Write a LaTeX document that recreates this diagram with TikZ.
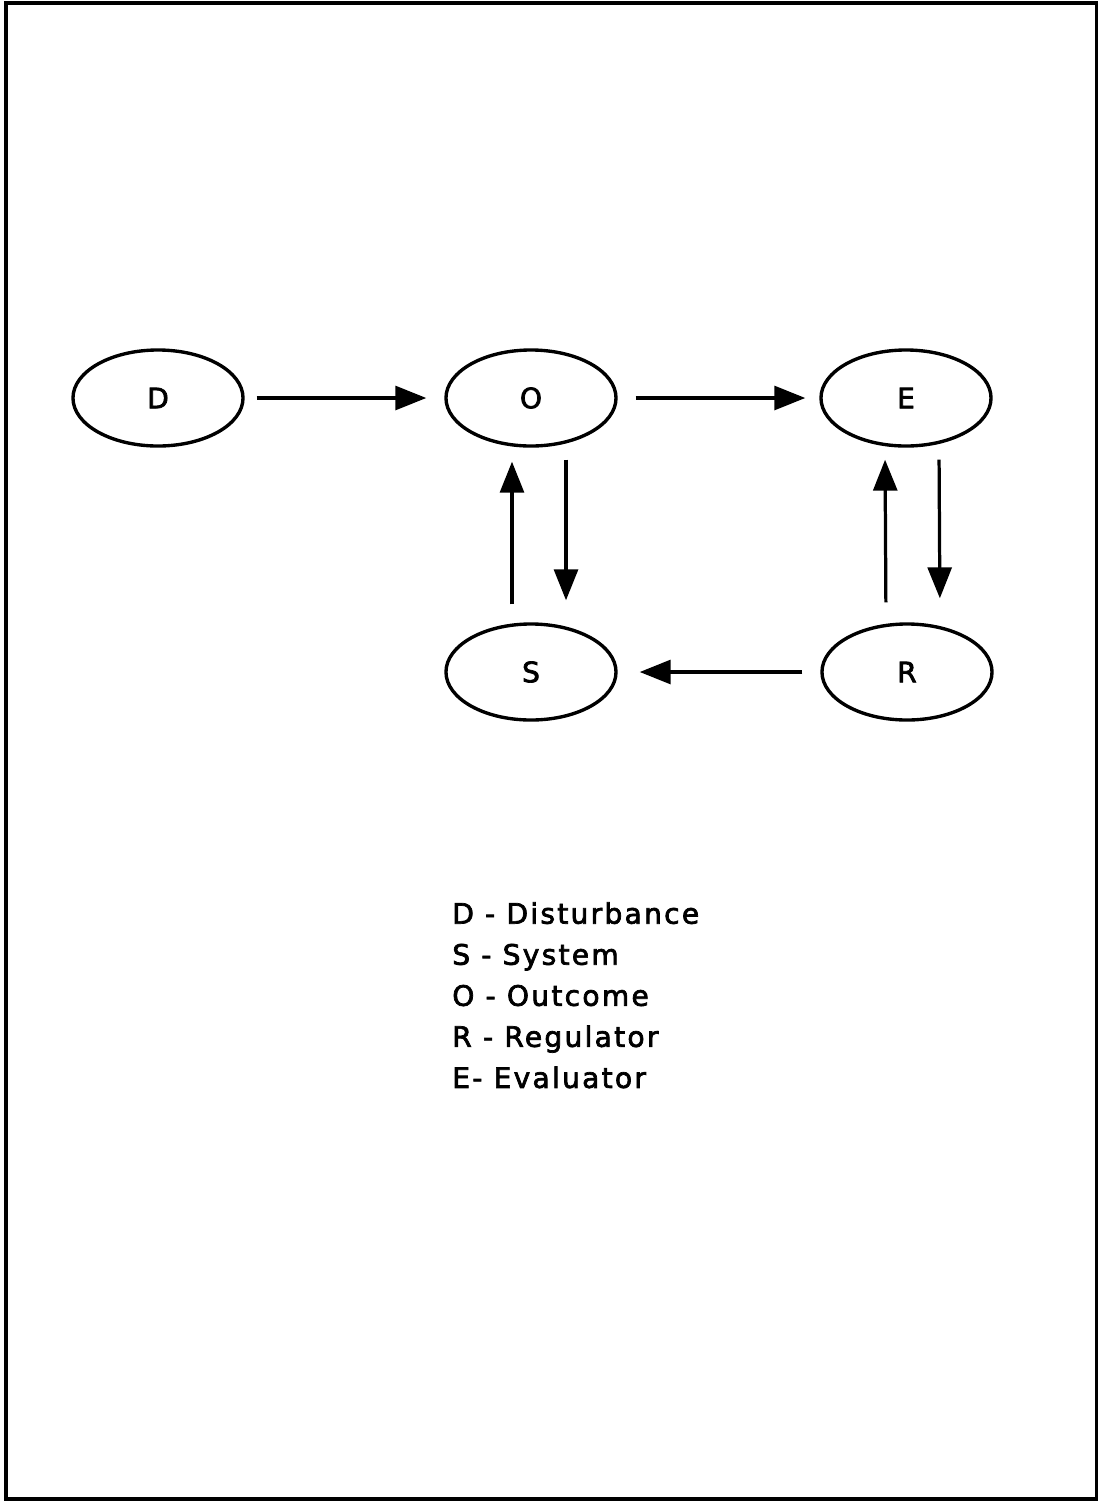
\documentclass[tikz,border=0pt]{standalone}
\usepackage{fontspec}
\setmainfont[FakeBold=2.5]{DejaVu Sans}
\usetikzlibrary{arrows.meta,shapes.geometric}

\begin{document}
\begin{tikzpicture}[x=0.025cm,y=-0.025cm,
	state/.style={draw,ellipse,line width=2.4pt,minimum width=4.25cm,minimum height=2.4cm,inner sep=0pt,font=\fontsize{20}{24}\selectfont},
	flow/.style={line width=2.3pt,-{Triangle[length=22pt,width=17pt]}}]
			\useasboundingbox (0,0) rectangle (1098,1502);
			\draw [line width=2.3pt] (6,3) rectangle (1097,1499);
			
			\node [state] (D) at (158,398) {D};
			\node [state] (O) at (531,398) {O};
			\node [state] (E) at (906,398) {E};
			\node [state] (S) at (531,672) {S};
			\node [state] (R) at (907,672) {R};
			
			\draw [flow,shorten <=0.3cm,shorten >=0.45cm] (D) -- (O);
			\draw [flow,shorten <=0.45cm,shorten >=0.35cm] (O) -- (E);
			\draw [flow,shorten <=0.45cm,shorten >=0.55cm] (R) -- (S);
			
			\draw [flow,shorten <=0.3cm,shorten >=0.55cm] ([xshift=0.875cm]O.south) -- ([xshift=0.875cm]S.north);
			\draw [flow,shorten <=0.45cm,shorten >=0.35cm] ([xshift=-0.475cm]S.north) -- ([xshift=-0.475cm]O.south);
			\draw [flow,shorten <=0.3cm,shorten >=0.6cm] ([xshift=0.825cm]E.south) -- ([xshift=0.825cm]R.north);
			\draw [flow,shorten <=0.5cm,shorten >=0.3cm] ([xshift=-0.525cm]R.north) -- ([xshift=-0.525cm]E.south);
			
			\node [anchor=north west,inner sep=0pt,align=left,font=\fontsize{20}{29.2}\selectfont\addfontfeature{LetterSpace=8}] (key) at (452,902)
				{D - Disturbance\\S - System\\O - Outcome\\R - Regulator\\E- Evaluator};
\end{tikzpicture}
\end{document}
